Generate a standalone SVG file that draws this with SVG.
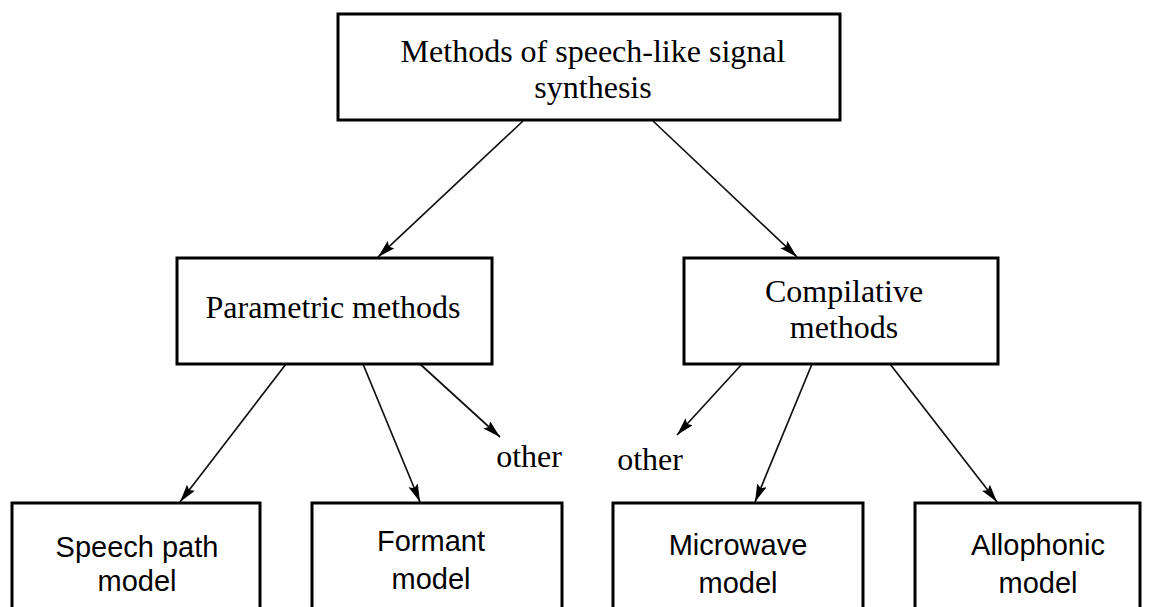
<svg xmlns="http://www.w3.org/2000/svg" width="1156" height="607" viewBox="0 0 1156 607">
<style>
.box{fill:#fff;stroke:#000;stroke-width:3}
.serif{font-family:"Liberation Serif","Times New Roman",serif;font-size:32px;fill:#000;text-anchor:middle}
.sans{font-family:"Liberation Sans",Arial,sans-serif;font-size:29px;fill:#000;text-anchor:middle}
.conn{stroke:#111;stroke-width:1.7;fill:none;marker-end:url(#ah)}
</style>
<defs>
<marker id="ah" markerUnits="userSpaceOnUse" markerWidth="20" markerHeight="12" refX="18" refY="5" orient="auto">
<path d="M0,0 L18,5 L0,10 L3,5 z" fill="#000"/>
</marker>
</defs>
<rect width="1156" height="607" fill="#fff"/>
<g id="connectors">
<line class="conn" x1="523" y1="121" x2="378" y2="257"/>
<line class="conn" x1="653" y1="121" x2="797" y2="257"/>
<line class="conn" x1="286" y1="364" x2="180" y2="502"/>
<line class="conn" x1="363" y1="364" x2="420" y2="502"/>
<line class="conn" x1="420" y1="364" x2="500" y2="437"/>
<line class="conn" x1="742" y1="364" x2="677" y2="435"/>
<line class="conn" x1="812" y1="364" x2="755" y2="502"/>
<line class="conn" x1="890" y1="364" x2="997" y2="502"/>
</g>
<g id="node-root">
<rect class="box" x="338" y="14" width="502" height="106"/>
<text class="serif" x="593" y="62">Methods of speech-like signal</text>
<text class="serif" x="593" y="98">synthesis</text>
</g>
<g id="node-parametric">
<rect class="box" x="177" y="258" width="315" height="106"/>
<text class="serif" x="333" y="318">Parametric methods</text>
</g>
<g id="node-compilative">
<rect class="box" x="684" y="258" width="314" height="106"/>
<text class="serif" x="844" y="302">Compilative</text>
<text class="serif" x="844" y="338">methods</text>
</g>
<g id="node-other-left">
<text class="serif" x="529" y="467">other</text>
</g>
<g id="node-other-right">
<text class="serif" x="650" y="470">other</text>
</g>
<g id="node-speech-path">
<rect class="box" x="12" y="503" width="248" height="120"/>
<text class="sans" x="137" y="557">Speech path</text>
<text class="sans" x="137" y="591">model</text>
</g>
<g id="node-formant">
<rect class="box" x="312" y="503" width="250" height="120"/>
<text class="sans" x="431" y="551">Formant</text>
<text class="sans" x="431" y="589">model</text>
</g>
<g id="node-microwave">
<rect class="box" x="613" y="503" width="250" height="120"/>
<text class="sans" x="738" y="555">Microwave</text>
<text class="sans" x="738" y="593">model</text>
</g>
<g id="node-allophonic">
<rect class="box" x="915" y="503" width="225" height="120"/>
<text class="sans" x="1038" y="555">Allophonic</text>
<text class="sans" x="1038" y="593">model</text>
</g>
</svg>
